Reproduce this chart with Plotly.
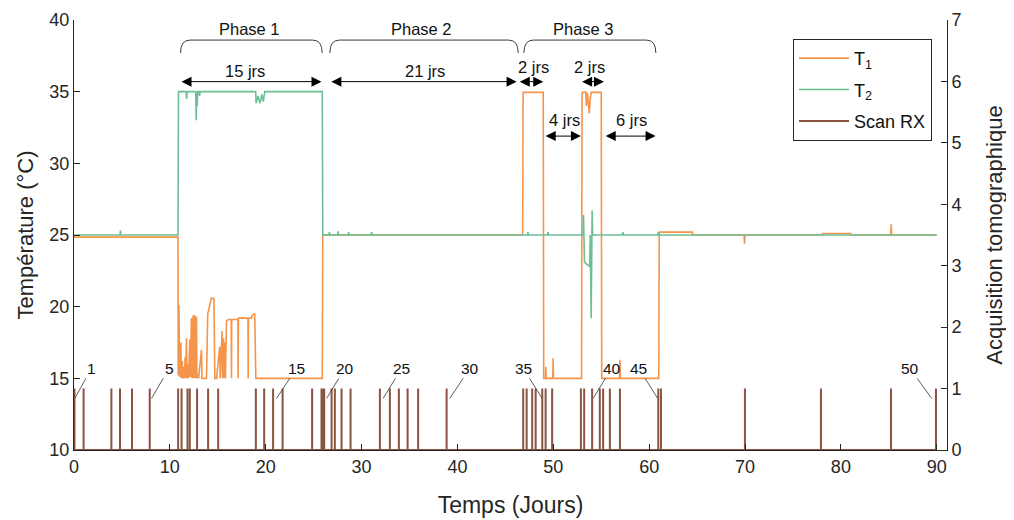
import plotly.graph_objects as go

# ---------------- data ----------------
t1_days = [0.0, 10.85, 10.87, 10.95, 11.0, 11.05, 11.15, 11.2, 11.3, 11.35, 11.45, 11.5, 11.6, 11.65,
           11.73, 11.78, 11.9, 11.95, 12.08, 12.12, 12.25, 12.3, 12.35, 12.43, 12.47, 12.55, 12.61,
           12.65, 12.72, 12.78, 12.82, 12.95, 13.0, 13.3, 13.35, 13.82, 13.95, 14.1, 14.34, 14.52,
           14.6, 14.69, 14.87, 15.2, 15.25, 15.45, 15.5, 15.6, 15.65, 15.75, 15.8, 15.91, 16.08,
           16.4, 16.43, 16.45, 17.1, 17.12, 17.15, 18.15, 18.17, 18.2, 18.5, 18.6, 18.85, 18.97,
           25.9, 25.95, 46.8, 46.85, 48.95, 49.0, 49.2, 49.22, 49.25, 49.95, 49.98, 50.02, 52.95,
           53.0, 53.4, 53.45, 53.55, 53.65, 53.75, 53.85, 53.95, 55.0, 55.05, 56.9, 56.95, 57.0,
           61.0, 61.05, 64.5, 64.55, 69.9, 69.95, 70.0, 78.0, 78.05, 81.0, 81.05, 85.2, 85.25,
           85.3, 90.0]
t1_vals = [24.85, 24.85, 15.2, 20.1, 16.0, 15.1, 17.5, 15.0, 16.2, 15.0, 15.8, 15.0, 16.5, 15.0,
           17.8, 15.0, 16.0, 15.0, 17.7, 15.1, 19.2, 15.0, 17.0, 19.4, 15.0, 18.5, 19.4,
           15.0, 19.3, 19.3, 15.0, 15.3, 15.0, 17.0, 15.0, 15.0, 19.5, 20.0, 20.6, 20.6,
           20.5, 15.0, 15.0, 17.2, 15.0, 18.3, 15.0, 17.8, 15.0, 17.5, 15.0, 19.0, 19.1,
           19.1, 15.0, 19.1, 19.1, 15.0, 19.2, 19.2, 15.0, 19.2, 19.2, 19.4, 19.5, 15.0,
           15.0, 25.0, 25.0, 34.95, 34.95, 15.0, 15.0, 15.8, 15.0, 15.0, 16.4, 15.0, 15.0,
           34.95, 34.95, 34.0, 34.9, 33.8, 33.5, 34.5, 34.95, 34.95, 15.0, 15.0, 16.3, 15.0,
           15.0, 25.2, 25.2, 25.0, 25.0, 24.4, 25.0, 25.0, 25.1, 25.1, 25.0, 25.0, 25.75,
           25.0, 25.0]

t2_days = [0.0, 4.8, 4.85, 4.9, 10.85, 10.9, 11.7, 11.75, 11.8, 12.7, 12.75, 12.8, 12.85, 12.9,
           13.05, 13.1, 13.15, 18.95, 19.0, 19.2, 19.4, 19.6, 19.75, 19.9, 25.9, 25.95, 26.6, 26.65,
           26.7, 27.5, 27.55, 27.6, 28.6, 28.65, 28.7, 31.0, 31.05, 31.1, 47.3, 47.35, 47.4, 49.4,
           49.45, 49.5, 53.1, 53.15, 53.2, 53.25, 53.8, 53.85, 53.95, 54.0, 54.05, 54.1, 57.2,
           57.25, 57.3, 60.9, 60.95, 61.0, 90.0]
t2_vals = [25.0, 25.0, 25.3, 25.0, 25.0, 35.0, 35.0, 34.5, 35.0, 35.0, 33.0, 34.9, 34.0, 35.0,
           35.0, 34.7, 35.0, 35.0, 34.2, 34.7, 34.2, 34.8, 34.3, 35.0, 35.0, 25.0, 25.0, 25.2,
           25.0, 25.0, 25.25, 25.0, 25.0, 25.2, 25.0, 25.0, 25.2, 25.0, 25.0, 25.2, 25.0, 25.0,
           25.2, 25.0, 25.0, 26.4, 25.0, 23.1, 22.8, 25.0, 19.2, 25.0, 26.7, 25.0, 25.0,
           25.2, 25.0, 25.0, 25.2, 25.0, 25.0]

scan_days = [0.05, 1.0, 3.9, 4.8, 6.05, 7.9, 10.86, 11.22, 11.84, 12.08, 12.84, 13.99, 15.04,
             18.97, 19.84, 20.77, 21.76, 24.84, 25.82, 25.95, 26.1, 26.87, 27.21, 27.91, 28.85,
             31.91, 32.95, 33.89, 34.8, 35.9, 38.87, 46.86, 47.22, 47.8, 48.16, 48.85, 49.2,
             49.88, 52.88, 53.22, 54.05, 54.85, 55.2, 55.9, 56.95, 60.95, 61.23, 69.99, 77.92,
             85.23, 89.92]
scan_level = 1

scan_labels = ['1', '5', '15', '20', '25', '30', '35', '40', '45', '50']
scan_label_target_day = [0.08, 8.09, 21.13, 26.35, 32.25, 39.2, 48.84, 54.16, 60.88, 89.47]
scan_label_text_day = [1.83, 9.92, 23.2, 28.26, 34.17, 41.3, 46.86, 56.08, 58.93, 87.2]

phase_names = ['Phase 1', 'Phase 2', 'Phase 3']
phase_start = [11.11, 26.69, 46.93]
phase_end = [25.89, 46.34, 60.7]
phase_label_day = [18.3, 36.3, 53.2]

dur_text = ['15 jrs', '21 jrs', '2 jrs', '2 jrs', '4 jrs', '6 jrs']
dur_start = [11.06, 26.69, 46.34, 52.85, 49.05, 55.31]
dur_end = [25.82, 46.17, 48.95, 55.28, 52.88, 60.67]
dur_arrow_T = [35.7, 35.7, 35.7, 35.7, 31.9, 31.9]
dur_text_T = [36.45, 36.45, 36.75, 36.75, 33.0, 33.0]
dur_text_day = [17.8, 36.6, 47.9, 53.8, 51.2, 58.2]

# ---------------- styles ----------------
FONT = 'Liberation Sans, Arial, sans-serif'
C_T1 = '#F5944B'
C_T2 = '#6CBE95'
C_RX = '#8A5440'
C_AX = '#262626'

scan_x, scan_y = [0.0], [0]
for d in scan_days:
    scan_x += [d, d, d]
    scan_y += [0, scan_level, 0]
scan_x.append(90.0)
scan_y.append(0)

fig = go.Figure()
fig.add_trace(go.Scatter(x=t1_days, y=t1_vals, mode='lines', name='T<sub>1</sub>', legendgroup='a',
                         line=dict(color=C_T1, width=1.6)))
fig.add_trace(go.Scatter(x=t2_days, y=t2_vals, mode='lines', name='T<sub>2</sub>', legendgroup='b',
                         line=dict(color=C_T2, width=1.6)))
fig.add_trace(go.Scatter(x=scan_x, y=scan_y, mode='lines', name='Scan RX', yaxis='y2', legendgroup='c',
                         line=dict(color=C_RX, width=2)))

annotations = []
shapes = []
TOP = 38.6
END = 37.7
for name, s, e, lx in zip(phase_names, phase_start, phase_end, phase_label_day):
    shapes.append(dict(type='path', xref='x', yref='y',
                       path=f'M {s},{END} Q {s},{TOP} {s + 1.0},{TOP} L {e - 1.0},{TOP} Q {e},{TOP} {e},{END}',
                       line=dict(color='#3a3a3a', width=1)))
    annotations.append(dict(x=lx, y=39.35, xref='x', yref='y', text=name, showarrow=False,
                            font=dict(size=16.5, color='#111', family=FONT)))

for t, s, e, ya, yt, xt in zip(dur_text, dur_start, dur_end, dur_arrow_T, dur_text_T, dur_text_day):
    annotations.append(dict(x=e, y=ya, ax=s, ay=ya, xref='x', yref='y', axref='x', ayref='y',
                            text=' ', showarrow=True, arrowhead=2, arrowside='end+start',
                            arrowsize=2, arrowwidth=1, arrowcolor='#000', font=dict(size=1)))
    annotations.append(dict(x=xt, y=yt, xref='x', yref='y', text=t, showarrow=False,
                            font=dict(size=16.5, color='#111', family=FONT)))

for lab, td, xd in zip(scan_labels, scan_label_target_day, scan_label_text_day):
    annotations.append(dict(x=td, y=0.84, ax=xd, ay=1.33, xref='x', yref='y2', axref='x', ayref='y2',
                            text=lab, showarrow=True, arrowhead=0, arrowwidth=0.8, arrowcolor='#333',
                            standoff=0, font=dict(size=15.5, color='#111', family=FONT)))

axis_common = dict(showline=True, linecolor=C_AX, linewidth=1, ticks='inside', ticklen=6,
                   tickcolor=C_AX, showgrid=False, zeroline=False,
                   tickfont=dict(size=18, color=C_AX, family=FONT))

# page body adds an 8 px offset; margins compensate for it
fig.update_layout(
    width=1014, height=520,
    margin=dict(l=66, r=75, t=12, b=78, autoexpand=False),
    paper_bgcolor='white', plot_bgcolor='white',
    font=dict(family=FONT, color=C_AX),
    xaxis=dict(range=[0, 91.07], tickvals=[0, 10, 20, 30, 40, 50, 60, 70, 80, 90],
               title=dict(text='Temps (Jours)', font=dict(size=23, color=C_AX), standoff=21),
               **axis_common),
    yaxis=dict(range=[10, 40], tickvals=[10, 15, 20, 25, 30, 35, 40],
               title=dict(text='Température (°C)', font=dict(size=22, color=C_AX), standoff=9),
               **axis_common),
    yaxis2=dict(range=[0, 7], tickvals=[0, 1, 2, 3, 4, 5, 6, 7], overlaying='y', side='right',
                title=dict(text='Acquisition tomographique', font=dict(size=22, color=C_AX), standoff=25),
                **axis_common),
    legend=dict(x=0.8236, y=0.956, xanchor='left', yanchor='top', bgcolor='white',
                bordercolor=C_AX, borderwidth=1, font=dict(size=18, color='#111', family=FONT),
                itemwidth=50, traceorder='grouped', tracegroupgap=5),
    showlegend=True,
    shapes=shapes,
    annotations=annotations,
)

fig.write_html('out.html')
